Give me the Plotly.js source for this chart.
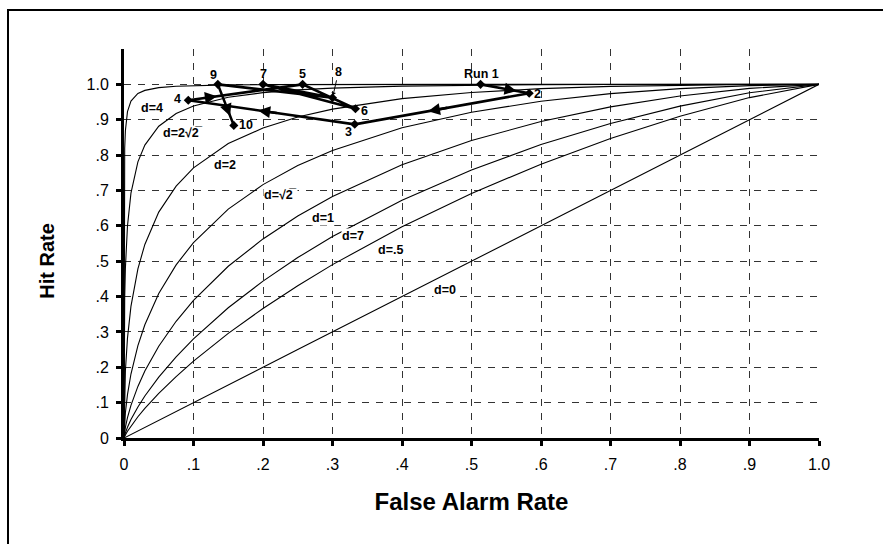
<!DOCTYPE html>
<html>
<head>
<meta charset="utf-8">
<script src="https://cdn.plot.ly/plotly-3.0.1.min.js"></script>
<style>
  html, body { margin: 0; padding: 0; background: #fff; overflow: hidden; }
  #wrap { position: relative; width: 883px; height: 544px; overflow: hidden; }
  #chart { position: absolute; left: 0; top: 0; width: 883px; height: 544px; }
  #frame { position: absolute; left: 7px; top: 9px; width: 1200px; height: 1200px;
           border: 2px solid #000; pointer-events: none; z-index: 5; }
</style>
</head>
<body>
<div id="wrap">
  <div id="chart"></div>
  <div id="frame"></div>
</div>
<script>
// ---------------- data ----------------
// false-alarm rates at which the ROC curves are read
const farGrid = [0, 0.0005, 0.001, 0.002, 0.005, 0.01, 0.02, 0.03, 0.05, 0.075, 0.1, 0.15, 0.2, 0.25, 0.3, 0.4, 0.5, 0.6, 0.7, 0.8, 0.9, 1.0];

// hit rates of each iso-sensitivity curve at those false-alarm rates
const hitD0    = [0, 0.0005, 0.001, 0.002, 0.005, 0.01, 0.02, 0.03, 0.05, 0.075, 0.1, 0.15, 0.2, 0.25, 0.3, 0.4, 0.5, 0.6, 0.7, 0.8, 0.9, 1.0];
const hitD05   = [0, 0.0026, 0.0048, 0.0087, 0.0190, 0.0339, 0.0601, 0.0837, 0.1261, 0.1736, 0.2172, 0.2960, 0.3663, 0.4307, 0.4903, 0.5974, 0.6915, 0.7744, 0.8472, 0.9101, 0.9626, 1];
const hitD07   = [0, 0.0048, 0.0084, 0.0147, 0.0303, 0.0520, 0.0879, 0.1188, 0.1723, 0.2296, 0.2804, 0.3684, 0.4437, 0.5102, 0.5697, 0.6724, 0.7580, 0.8298, 0.8896, 0.9384, 0.9762, 1];
const hitD1    = [0, 0.0110, 0.0183, 0.0302, 0.0575, 0.0924, 0.1459, 0.1892, 0.2595, 0.3300, 0.3891, 0.4856, 0.5629, 0.6276, 0.6828, 0.7724, 0.8413, 0.8950, 0.9363, 0.9672, 0.9887, 1];
const hitDr2   = [0, 0.0303, 0.0469, 0.0716, 0.1226, 0.1809, 0.2611, 0.3203, 0.4087, 0.4896, 0.5527, 0.6473, 0.7165, 0.7703, 0.8132, 0.8772, 0.9213, 0.9523, 0.9737, 0.9880, 0.9965, 1];
const hitD2    = [0, 0.0984, 0.1379, 0.1900, 0.2823, 0.3722, 0.4785, 0.5474, 0.6387, 0.7123, 0.7638, 0.8325, 0.8766, 0.9075, 0.9300, 0.9597, 0.9772, 0.9879, 0.9942, 0.9978, 0.9995, 1];
const hitD2r2  = [0, 0.3217, 0.3967, 0.4804, 0.5996, 0.6922, 0.7808, 0.8282, 0.8817, 0.9175, 0.9390, 0.9634, 0.9765, 0.9844, 0.9894, 0.9950, 0.9977, 0.9990, 0.9996, 0.9999, 1.0, 1];
const hitD4    = [0, 0.7609, 0.8186, 0.8690, 0.9228, 0.9529, 0.9742, 0.9830, 0.9907, 0.9948, 0.9967, 0.9985, 0.9992, 0.9996, 0.9998, 1, 1, 1, 1, 1, 1, 1];

const curveHits   = [hitD0, hitD05, hitD07, hitD1, hitDr2, hitD2, hitD2r2, hitD4];
const curveLabels = ["d=0", "d=.5", "d=7", "d=1", "d=\u221A2\u0305", "d=2", "d=2\u221A2\u0305", "d=4"];
// where each curve label sits (false-alarm, hit)
const curveLabelF = [0.462, 0.383, 0.330, 0.287, 0.2245, 0.145, 0.085, 0.040];
const curveLabelH = [0.418, 0.531, 0.571, 0.623, 0.686, 0.771, 0.862, 0.933];

// observer's runs
const runLabels = ["Run 1", "2", "3", "4", "5", "6", "7", "8", "9", "10"];
const runFA     = [0.513, 0.583, 0.332, 0.0925, 0.257, 0.333, 0.200, 0.300, 0.135, 0.158];
const runHit    = [1.000, 0.975, 0.887, 0.955, 1.000, 0.931, 1.000, 0.962, 1.000, 0.884];

const tickVals  = [0, 0.1, 0.2, 0.3, 0.4, 0.5, 0.6, 0.7, 0.8, 0.9, 1.0];
const tickText  = ["0", ".1", ".2", ".3", ".4", ".5", ".6", ".7", ".8", ".9", "1.0"];

// ---------------- styling ----------------
const FONT = "Liberation Sans, Arial, Helvetica, sans-serif";

const traces = [];
curveHits.forEach((h, i) => {
  traces.push({
    x: farGrid, y: h, type: "scatter", mode: "lines",
    line: { color: "#000", width: 1.1 },
    hoverinfo: "skip", showlegend: false, cliponaxis: false
  });
});
traces.push({
  x: runFA, y: runHit, type: "scatter", mode: "lines+markers",
  line: { color: "#000", width: 2.6 },
  marker: { symbol: "diamond", size: 7, color: "#000" },
  showlegend: false, cliponaxis: false
});

const annotations = [];
// curve labels
curveLabels.forEach((t, i) => {
  annotations.push({
    x: curveLabelF[i], y: curveLabelH[i], xref: "x", yref: "y",
    text: "<b>" + t + "</b>", showarrow: false,
    font: { family: FONT, size: 12.5, color: "#000" },
    bgcolor: "#fff", borderpad: 0
  });
});
// run labels (pixel offsets from each point)
const lblShift = [[1, 10], [8, -1], [-6, -8], [-11, 1], [0, 10], [9, -2], [0, 10], null, [-4, 9], [12, 0]];
runLabels.forEach((t, i) => {
  if (lblShift[i] === null) {
    annotations.push({
      x: runFA[i], y: runHit[i], xref: "x", yref: "y",
      text: "<b>" + t + "</b>", showarrow: true,
      ax: 6, ay: -26, arrowhead: 1, arrowsize: 0.8, arrowwidth: 1, standoff: 3,
      arrowcolor: "#000",
      font: { family: FONT, size: 12.5, color: "#000" }
    });
  } else {
    annotations.push({
      x: runFA[i], y: runHit[i], xref: "x", yref: "y",
      text: "<b>" + t + "</b>", showarrow: false,
      xshift: lblShift[i][0], yshift: lblShift[i][1],
      font: { family: FONT, size: 12.5, color: "#000" }
    });
  }
});
// direction arrows along the path: [segment start index, fraction where tip sits]
const arrowSegs = [[0, 0.74], [1, 0.58], [2, 0.58], [3, 0.25], [8, 0.77]];
arrowSegs.forEach(([i, f]) => {
  const x0 = runFA[i], y0 = runHit[i], x1 = runFA[i + 1], y1 = runHit[i + 1];
  const tx = x0 + f * (x1 - x0), ty = y0 + f * (y1 - y0);
  const g = f - 0.12;
  annotations.push({
    x: tx, y: ty, ax: x0 + g * (x1 - x0), ay: y0 + g * (y1 - y0),
    xref: "x", yref: "y", axref: "x", ayref: "y",
    text: "", showarrow: true, arrowhead: 2, arrowsize: 1, arrowwidth: 2.4,
    arrowcolor: "#000", standoff: 0, startstandoff: 0
  });
});
// y-axis title centred on 0..1 range
annotations.push({
  x: -0.11, y: 0.5, xref: "paper", yref: "y", xanchor: "center", yanchor: "middle",
  text: "<b>Hit Rate</b>", textangle: -90, showarrow: false,
  font: { family: FONT, size: 20, color: "#000" }
});

const axisCommon = {
  tickvals: tickVals, ticktext: tickText,
  showline: true, linecolor: "#000", linewidth: 3,
  ticks: "outside", ticklen: 5, tickwidth: 3, tickcolor: "#000",
  showgrid: true, gridcolor: "#333", gridwidth: 1, griddash: "7px,7px",
  zeroline: false, fixedrange: true,
  tickfont: { family: FONT, size: 16, color: "#000" }
};

const layout = {
  width: 883, height: 544,
  margin: { l: 124, r: 64, t: 49, b: 106 },
  paper_bgcolor: "#fff", plot_bgcolor: "#fff",
  showlegend: false,
  xaxis: Object.assign({}, axisCommon, {
    range: [0, 1.0],
    ticklabelstandoff: 5,
    title: { text: "<b>False Alarm Rate</b>", font: { family: FONT, size: 24, color: "#000" }, standoff: 21 }
  }),
  yaxis: Object.assign({}, axisCommon, {
    range: [0, 1.1],
    ticklabelstandoff: 4
  }),
  annotations: annotations
};

Plotly.newPlot("chart", traces, layout, { displayModeBar: false, staticPlot: true });
</script>
</body>
</html>
